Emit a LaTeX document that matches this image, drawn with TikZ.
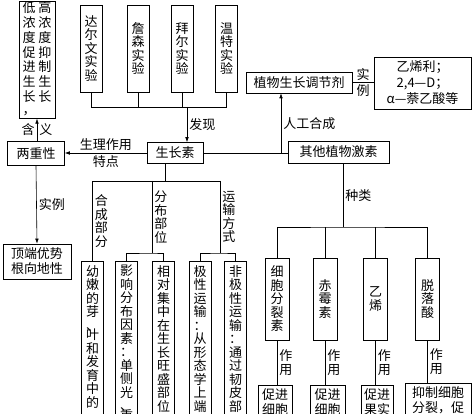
\documentclass[tikz,border=0pt]{standalone}
\usepackage{fontspec}
\setmainfont{Noto Sans CJK SC}
\usetikzlibrary{arrows.meta, positioning, calc}

\begin{document}
\begin{tikzpicture}[
    x=1pt, y=-1pt,
    font=\fontsize{13}{13.5}\selectfont,
    box/.style={draw, line width=0.6pt, inner sep=0pt, align=center},
    vbox/.style={draw, line width=0.6pt, inner xsep=0pt, inner ysep=4pt,
                 minimum width=22pt, align=center, anchor=north, text depth=160pt},
    dbox/.style={draw, line width=0.6pt, inner xsep=0pt, inner ysep=3pt,
                 align=center, anchor=north, text depth=40pt,
                 font=\fontsize{13}{15}\selectfont},
    lbl/.style={inner sep=2pt, align=center},
    ln/.style={line width=0.6pt},
    arr/.style={-{Latex[length=5pt,width=3.6pt]}, line width=0.6pt}
  ]
  \useasboundingbox (0,0) rectangle (474,414);
  \clip (0,0) rectangle (474,414);

  % experiments
  \node[box, minimum width=22pt, minimum height=87pt] (d1) at (91,48.5) {达\\尔\\文\\实\\验};
  \node[box, minimum width=22pt, minimum height=87pt] (d2) at (138,48.5) {詹\\森\\实\\验};
  \node[box, minimum width=22pt, minimum height=87pt] (d3) at (182,48.5) {拜\\尔\\实\\验};
  \node[box, minimum width=22pt, minimum height=87pt] (d4) at (226.5,48.5) {温\\特\\实\\验};

  % left part
  \node[box, minimum width=36pt, minimum height=110pt] (yi) at (37,60)
    {\fontsize{13}{13}\selectfont
     \begin{tabular}{@{}c@{\hspace{3pt}}c@{}}低&高\\浓&浓\\度&度\\促&抑\\进&制\\生&生\\长&长\\，&\end{tabular}};
  \node[box, minimum width=57pt, minimum height=24pt] (lc) at (36,153.5) {两重性};
  \node[box, minimum width=68pt, minimum height=35pt, font=\fontsize{13}{15}\selectfont] (dd) at (37,261.5) {顶端优势\\根向地性};

  % main nodes
  \node[box, minimum width=56pt, minimum height=21pt] (sz) at (175,153) {生长素};
  \node[box, minimum width=101pt, minimum height=22pt] (qt) at (338.5,152) {其他植物激素};
  \node[box, minimum width=106pt, minimum height=21pt] (tj) at (299,82.5) {植物生长调节剂};
  \node[box, minimum width=97pt, minimum height=52pt, font=\fontsize{13}{16}\selectfont] (ex) at (422.5,83)
    {乙烯利；\\2,4—D；\\α—萘乙酸等};

  % auxin columns
  \node[vbox] (y1) at (92.5,261) {幼\\嫩\\的\\芽\\、\\[-4pt]叶\\和\\发\\育\\中\\的};
  \node[vbox] (y2) at (126.5,261) {影\\响\\分\\布\\因\\素\\：\\单\\侧\\光\\、\\[-4pt]重};
  \node[vbox] (y3) at (163.5,261) {相\\对\\集\\中\\在\\生\\长\\旺\\盛\\部\\位};
  \node[vbox] (y4) at (200,261) {极\\性\\运\\输\\：\\从\\形\\态\\学\\上\\端};
  \node[vbox] (y5) at (235.5,261) {非\\极\\性\\运\\输\\：\\通\\过\\韧\\皮\\部};

  % other hormones
  \node[box, minimum width=24pt, minimum height=82pt] (h1) at (277,299) {细\\胞\\分\\裂\\素};
  \node[box, minimum width=24pt, minimum height=82pt] (h2) at (325,299) {赤\\霉\\素};
  \node[box, minimum width=24pt, minimum height=82pt] (h3) at (375.5,299) {乙\\烯};
  \node[box, minimum width=24pt, minimum height=82pt] (h4) at (427.5,299) {脱\\落\\酸};

  \node[dbox, minimum width=34pt] (b1) at (275,385) {促进\\细胞};
  \node[dbox, minimum width=35pt] (b2) at (327.5,385) {促进\\细胞};
  \node[dbox, minimum width=32pt] (b3) at (377,385) {促进\\果实};
  \node[dbox, minimum width=66pt] (b4) at (438,383) {抑制细胞\\分裂，促};

  % helper points
  \coordinate (fx) at (187,107);
  \coordinate (rg) at (281,153);
  \coordinate (fb) at (165,181);
  \coordinate (c2) at (152,253);
  \coordinate (c3) at (220,253);
  \coordinate (zl) at (343,227);

  % connectors
  \draw[ln] (d1.south) |- (fx -| d4.south) -- (d4.south);
  \draw[ln] (d2.south) -- (d2.south |- fx);
  \draw[ln] (d3.south) -- (d3.south |- fx);
  \draw[arr] (fx) -- (fx |- sz.north) node[lbl, midway, right] {发现};

  \draw[arr] (sz.west) -- (sz.west -| lc.east)
    node[lbl, midway, above] {生理作用} node[lbl, midway, below] {特点};
  \draw[arr] (yi.south |- lc.north) -- (yi.south)
    node[lbl, midway, left] {含} node[lbl, midway, right] {义};
  \draw[arr] (lc.south) -- (dd.north) node[lbl, midway, right] {实例};

  \draw[ln] (sz.east) -- (sz.east -| qt.west);
  \draw[arr] (rg) -- (rg |- tj.south) node[lbl, midway, right] {人工合成};
  \draw[ln] (tj.east) -- (tj.east -| ex.west)
    node[lbl, midway, above] {实} node[lbl, midway, below] {例};

  \draw[ln] (fb |- sz.south) -- (fb);
  \draw[ln] (y1.north) -- node[lbl, right] {合\\成\\部\\分} (y1.north |- fb) -- (c3 |- fb);
  \draw[ln] (c2 |- fb) -- node[lbl, right] {分\\布\\部\\位} (c2);
  \draw[ln] (c3 |- fb) -- node[lbl, right] {运\\输\\方\\式} (c3);
  \draw[ln] (y2.north) |- (c2) -| (y3.north);
  \draw[ln] (y4.north) |- (c3) -| (y5.north);

  \draw[ln] (zl |- qt.south) -- node[lbl, right] {种类} (zl);
  \draw[ln] (h1.north) |- (zl) -| (h4.north);
  \draw[ln] (h2.north) -- (h2.north |- zl);
  \draw[ln] (h3.north) -- (h3.north |- zl);
  \draw[ln] (h1.south) -- node[lbl, right] {作\\用} (h1.south |- b1.north);
  \draw[ln] (h2.south) -- node[lbl, right] {作\\用} (h2.south |- b2.north);
  \draw[ln] (h3.south) -- node[lbl, right] {作\\用} (h3.south |- b3.north);
  \draw[ln] (h4.south) -- node[lbl, right] {作\\用} (h4.south |- b4.north);
\end{tikzpicture}
\end{document}
